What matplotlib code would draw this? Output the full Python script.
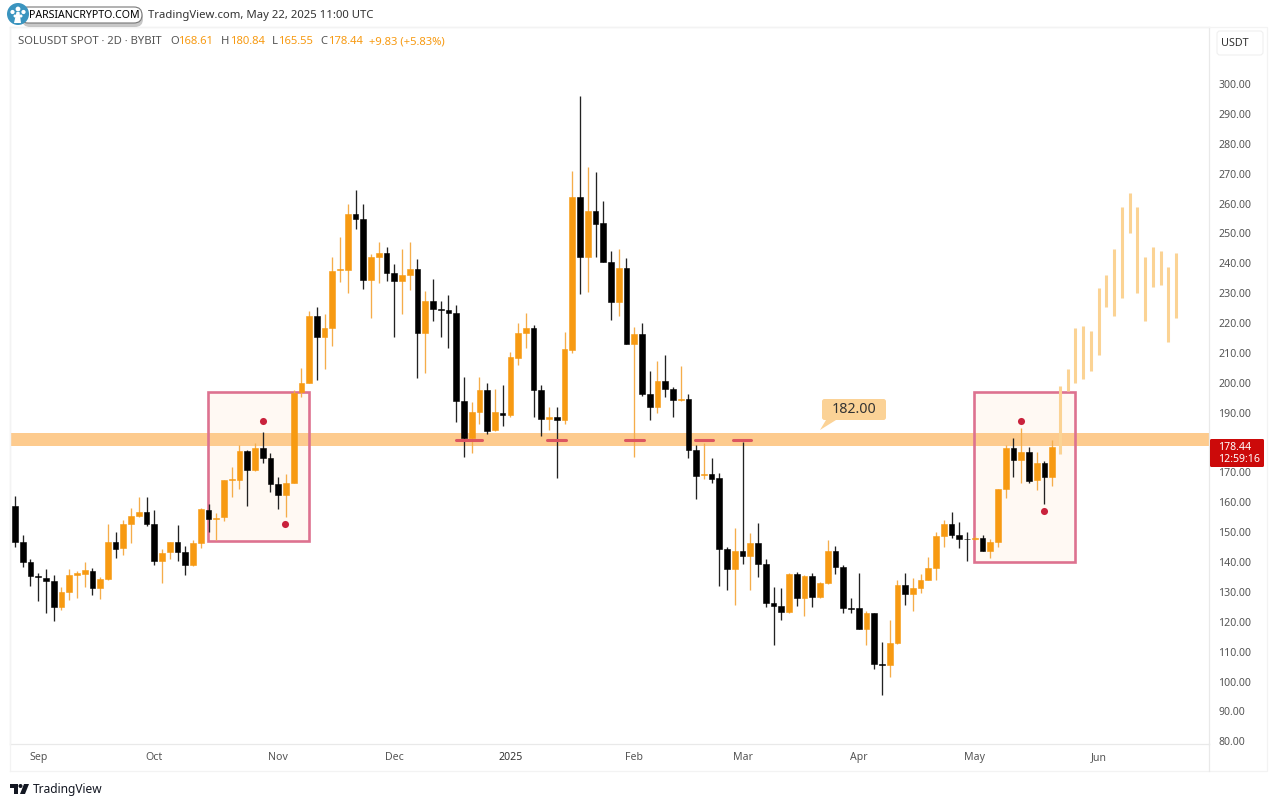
import matplotlib
matplotlib.use('Agg')
import matplotlib.pyplot as plt
from matplotlib.patches import Rectangle, FancyBboxPatch, Circle, Polygon

plt.rcParams['font.family'] = ['Noto Sans', 'DejaVu Sans']

opens = [158.8,146.8,140.1,135.3,134.8,133.6,124.8,130.0,135.7,136.1,
         137.1,131.4,134.4,146.7,144.8,152.7,155.5,156.7,152.6,140.2,
         143.2,146.6,143.4,139.1,146.3,157.4,154.4,154.9,167.5,167.4,
         177.2,170.9,178.1,174.9,166.1,162.5,166.6,197.0,199.8,222.4,
         215.2,218.4,237.6,237.6,256.4,254.9,234.3,242.0,243.3,236.9,
         234.0,236.0,238.2,216.7,227.4,224.8,224.4,223.2,193.9,181.4,
         190.1,197.6,184.1,190.0,189.2,208.4,216.7,218.2,197.6,187.8,
         188.5,187.5,211.0,262.3,242.2,257.5,253.4,240.4,227.0,238.5,
         213.0,216.3,196.2,192.0,200.5,197.9,194.2,194.5,177.6,169.0,
         169.6,168.0,144.3,137.7,143.7,142.1,146.2,139.3,126.4,125.3,
         123.3,135.9,128.0,135.4,128.4,132.9,143.7,138.4,124.7,124.5,
         117.5,122.8,105.8,105.4,112.8,132.3,129.3,131.3,134.0,137.9,
         148.7,152.6,149.1,147.8,147.7,147.9,143.8,146.8,164.5,178.0,
         174.1,176.7,167.4,173.2,168.61]
closes = [146.8,140.1,135.4,135.0,133.6,125.0,129.9,135.6,136.2,137.2,
          131.4,134.3,146.8,144.5,152.7,155.5,156.7,152.6,140.2,143.1,
          146.6,143.4,139.1,146.3,157.6,154.4,154.8,167.4,167.9,177.1,
          170.9,178.0,174.9,166.1,162.5,166.6,196.7,199.8,222.4,215.2,
          218.4,237.4,238.0,256.5,254.9,234.3,242.0,243.3,236.9,234.0,
          236.0,238.2,216.7,227.4,224.8,224.4,223.2,193.9,181.4,190.1,
          197.6,184.0,190.1,189.3,208.5,216.7,218.2,197.6,187.8,188.5,
          187.5,211.2,262.3,242.2,257.5,253.1,240.4,227.0,238.5,213.0,
          216.3,196.1,192.0,200.5,197.9,194.2,194.6,177.6,168.8,169.5,
          167.9,144.3,137.7,143.7,142.1,146.2,139.3,126.4,125.4,123.3,
          135.9,128.0,135.4,128.4,132.9,143.7,138.4,124.5,124.4,117.5,
          122.8,105.9,105.4,112.8,132.3,129.3,131.2,134.0,137.9,148.7,
          152.6,149.0,147.8,147.6,147.9,143.8,146.8,164.5,178.0,174.1,
          176.7,167.2,173.2,168.6,178.44]
highs = [162.1,149.0,141.0,136.2,137.6,135.6,131.7,137.8,137.0,139.9,
         138.0,135.1,152.6,150.0,154.0,158.0,161.8,161.8,157.4,144.5,
         146.8,152.4,145.3,147.3,158.2,159.4,156.5,167.5,171.7,179.1,
         177.5,179.7,183.4,176.4,168.5,169.3,197.6,205.0,224.1,225.3,
         222.9,242.2,248.7,259.8,264.5,259.8,243.1,247.0,245.3,239.6,
         244.8,247.2,241.4,230.7,234.8,227.5,229.4,226.0,202.0,193.5,
         202.0,199.8,197.8,199.2,210.4,219.9,223.2,219.3,199.2,192.0,
         192.0,217.1,270.9,296.0,272.1,270.4,260.8,244.0,244.8,241.9,
         218.8,220.1,203.9,207.4,209.2,198.5,205.6,196.2,179.2,179.7,
         174.9,169.7,145.1,151.3,180.3,149.8,152.9,140.9,131.5,131.2,
         136.4,136.8,135.7,136.2,133.4,147.4,145.5,139.0,127.8,136.2,
         123.6,122.8,113.1,120.6,134.0,136.2,134.5,136.0,141.8,150.2,
         154.1,156.8,153.3,150.2,148.7,149.0,147.6,164.5,179.2,181.4,
         184.7,178.4,176.9,173.8,180.84]
lows = [145.1,138.2,132.0,127.0,122.8,120.3,124.1,127.2,128.1,131.7,
        129.0,127.5,134.0,141.2,142.3,146.2,155.0,152.0,139.0,133.0,
        141.0,140.3,135.6,138.7,144.8,150.1,147.3,153.7,161.6,164.3,
        158.8,170.5,173.2,163.5,157.9,155.1,166.6,195.1,199.8,200.9,
        204.6,212.3,233.7,229.9,251.5,231.3,221.8,233.3,234.2,215.2,
        223.0,231.1,201.5,203.4,220.8,215.2,211.5,187.0,175.3,176.6,
        186.2,182.9,184.0,185.6,188.6,205.8,211.5,188.4,182.2,184.2,
        168.0,186.2,209.9,229.7,230.3,242.2,240.4,221.0,222.5,213.0,
        175.3,195.6,187.5,190.0,195.1,188.7,193.9,174.7,161.0,167.7,
        166.6,132.0,130.6,125.6,139.3,130.6,135.1,125.0,112.1,120.6,
        123.0,125.3,122.0,124.8,127.9,132.6,135.9,122.8,122.8,117.5,
        112.3,104.1,95.5,101.4,112.5,125.6,123.6,129.5,134.0,134.0,
        145.1,147.9,144.8,140.4,147.4,143.8,141.4,145.1,161.3,168.6,
        166.3,166.6,164.1,159.4,165.55]

# projected bars pasted after the last candle
proj_highs = [198.9,204.5,218.2,219.1,217.4,231.6,236.1,244.8,258.7,263.4,258.7,242.2,245.6,244.2,238.6,243.5]
proj_lows = [176.2,197.2,199.8,201.1,204.0,209.3,225.3,222.4,228.5,250.2,230.2,220.8,232.0,232.7,213.8,221.8]

month_pos = [3, 18, 34, 49, 64, 80, 94, 109, 124, 140]
month_labels = ['Sep', 'Oct', 'Nov', 'Dec', '2025', 'Feb', 'Mar', 'Apr', 'May', 'Jun']
price_ticks = list(range(80, 310, 10))

# (left, right, bottom, top)
boxes = [(24.94, 37.98, 147.0, 196.9), (123.9, 136.95, 140.0, 196.9)]
# (left, right)
touches = [(57.0, 60.3), (68.7, 71.2), (78.8, 81.2), (87.8, 90.2), (92.8, 95.1)]
dot_x = [32.1, 34.9, 130.0, 132.95]
dot_y = [187.3, 152.8, 187.3, 157.2]
zone_low, zone_high = 178.8, 183.2

W, H = 1280, 806
ORANGE = '#f79a12'
WICK_ORANGE = '#f5ad4a'
BLACK = '#000000'
GREY = '#555555'

fig = plt.figure(figsize=(12.8, 8.06), dpi=100, facecolor='white')
ax = fig.add_axes([10/W, 1-744/H, 1199/W, 717/H])
ax.set_xlim(-0.646, 154.26)
ax.set_ylim(79.08, 319.08)

for l, r, b, t in boxes:
    ax.add_patch(Rectangle((l, b), r-l, t-b, fc='#fff9f3', ec='none', zorder=0.5))
    ax.add_patch(Rectangle((l, b), r-l, t-b, fc='none', ec='#dd7290', lw=1.9, zorder=2))
ax.axhspan(zone_low, zone_high, color='#fdcb8e', lw=0, zorder=1)
for l, r in touches:
    ax.plot([l, r], [181, 181], color='#dc5560', lw=2.2, solid_capstyle='round', zorder=6)

idx = range(len(opens))
cols = [ORANGE if c >= o else BLACK for o, c in zip(opens, closes)]
wcols = [WICK_ORANGE if c >= o else '#222222' for o, c in zip(opens, closes)]
ax.vlines(idx, lows, highs, colors=wcols, lw=0.95, zorder=3)
bottoms = [min(o, c) for o, c in zip(opens, closes)]
heights = [abs(c-o) for o, c in zip(opens, closes)]
ax.bar(idx, heights, bottom=bottoms, width=0.74, color=cols, edgecolor=cols, lw=0.4, zorder=4)

proj_x = [len(opens)+i for i in range(len(proj_highs))]
ax.vlines(proj_x, proj_lows, proj_highs, colors='#fbd394', lw=2.2, zorder=3)

ax.scatter(dot_x, dot_y, s=26, color='#c9223c', lw=0, zorder=6)

ax.yaxis.tick_right()
ax.set_yticks(price_ticks)
ax.set_yticklabels(['%.2f' % p for p in price_ticks], fontsize=7.6, color=GREY)
ax.tick_params(axis='y', length=0, pad=6.6)
ax.set_xticks(month_pos)
ax.set_xticklabels(month_labels, fontsize=7.6, color=GREY)
ax.get_xticklabels()[4].set_fontweight('bold')
ax.get_xticklabels()[4].set_color('#333333')
ax.tick_params(axis='x', length=0, pad=6)
for s in ax.spines.values():
    s.set_color('#e9e9e9')
    s.set_linewidth(0.9)

# page furniture, drawn in pixel coordinates on top
ov = fig.add_axes([0, 0, 1, 1], facecolor='none')
ov.set_xlim(0, W)
ov.set_ylim(H, 0)
ov.axis('off')

ov.plot([10, 1267, 1267, 10, 10], [771, 771, 27, 27, 771], color='#f3f3f3', lw=0.9, zorder=0)
ov.plot([1209, 1209], [744, 771], color='#e9e9e9', lw=0.9)
ov.add_patch(FancyBboxPatch((1217, 31), 46, 24, boxstyle='round,pad=0,rounding_size=3',
                            fc='white', ec='#f0f0f0', lw=0.8))
ov.text(1235, 43, 'USDT', fontsize=7.8, color='#333333', ha='center', va='center')

# current price tag
ov.add_patch(FancyBboxPatch((1210, 439), 54, 28, boxstyle='round,pad=0,rounding_size=1.5', fc='#cc0a0a', ec='none'))
ov.text(1218, 447.5, '178.44', fontsize=7.6, color='white', va='center')
ov.text(1218, 460, '12:59:16', fontsize=7.6, color='white', va='center')

# level label
ov.add_patch(Polygon([[826, 420], [836, 420], [820, 430]], fc='#fbd296', ec='none'))
ov.add_patch(FancyBboxPatch((822, 399), 64, 21, boxstyle='round,pad=0,rounding_size=2.5', fc='#fbd296', ec='none'))
ov.text(854, 409.5, '182.00', fontsize=10.2, color='#333333', ha='center', va='center')

# header
ov.text(148, 15.5, 'TradingView.com, May 22, 2025 11:00 UTC', fontsize=8.15, color='#333333', va='center')
ov.text(18, 42, 'SOLUSDT SPOT · 2D · BYBIT', fontsize=8.1, color=GREY, va='center')
parts = [(170, 'O', GREY), (178, '168.61', ORANGE), (221, 'H', GREY), (230, '180.84', ORANGE),
         (272, 'L', GREY), (278, '165.55', ORANGE), (320, 'C', GREY), (328, '178.44', ORANGE),
         (369, '+9.83 (+5.83%)', ORANGE)]
for x, s, c in parts:
    ov.text(x, 42, s, fontsize=8.1, color=c, va='center')

# watermark pill and logo
ov.add_patch(FancyBboxPatch((22, 10), 121, 17, boxstyle='round,pad=0,rounding_size=8', fc='#777777', ec='none', alpha=0.4))
ov.add_patch(FancyBboxPatch((20, 7), 122, 16, boxstyle='round,pad=0,rounding_size=8', fc='white', ec='#777777', lw=0.8))
ov.text(84.5, 15.5, 'PARSIANCRYPTO.COM', fontsize=7.6, fontweight='bold', color='black', ha='center', va='center')
ov.add_patch(Circle((18, 14), 11, fc='#3a94bf', ec='none'))
for cx, cy, r in [(18, 9, 2.4), (12.5, 12, 2.1), (23.5, 12, 2.1), (15, 16, 1.5), (21, 16, 1.5)]:
    ov.add_patch(Circle((cx, cy), r, fc='white', ec='none'))
ov.add_patch(Polygon([[16.5, 12], [19.5, 12], [21, 23], [14, 23]], fc='white', ec='none'))

# footer logo
ov.add_patch(Polygon([[10, 784], [18, 784], [18, 794], [14, 794], [14, 788], [10, 788]], fc='#131722', ec='none'))
ov.add_patch(Circle((20.5, 786), 2, fc='#131722', ec='none'))
ov.add_patch(Polygon([[24, 784], [29, 784], [25, 794], [20, 794]], fc='#131722', ec='none'))
ov.text(33, 789, 'TradingView', fontsize=8.6, color='#131722', va='center')

fig.savefig('out.png', dpi=100, facecolor='white')
